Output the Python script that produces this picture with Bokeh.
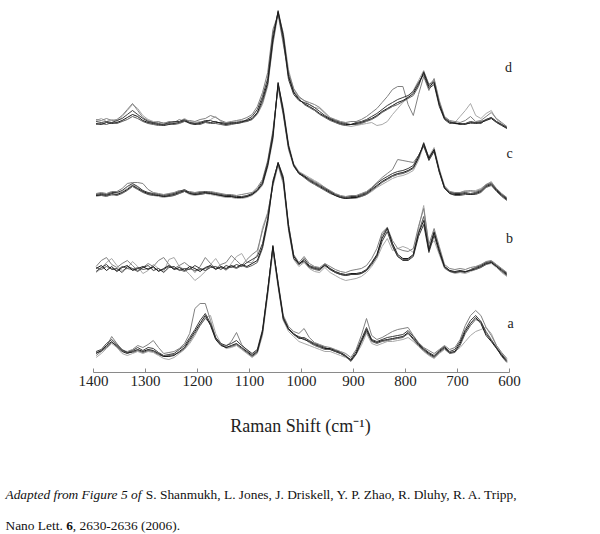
from bokeh.plotting import figure
from bokeh.layouts import column
from bokeh.models import Range1d, Label, FixedTicker
from bokeh.embed import file_html
from bokeh.resources import INLINE

# Raman shift sample positions (cm^-1), 1395 .. 605
raman_shift = list(range(1395, 604, -10))
tick_values = [1400, 1300, 1200, 1100, 1000, 900, 800, 700, 600]

# vertical stacking offset of each group (arbitrary intensity units)
offsets = {"a": 19, "b": 104, "c": 177, "d": 248}

# ---- group d spectra (relative intensity) ----
d1 = [1, 0, 2, 1, 2, 4, 7, 10, 8, 4,
      2, 1, 0, -1, 0, 1, 2, 4, 1, 0,
      1, 3, 2, 3, 1, 0, 1, 2, 3, 4,
      6, 12, 25, 42, 85, 113, 88, 48, 32, 25,
      21, 18, 15, 11, 8, 5, 3, 1, 0, 0,
      1, 2, 4, 6, 9, 13, 16, 19, 22, 24,
      27, 31, 40, 52, 38, 42, 20, 6, 2, 1,
      1, 0, 2, 1, 2, 4, 6, 2, -1, -4]
d2 = [3, 2, 3, 2, 4, 6, 10, 14, 10, 6,
      3, 2, 1, 0, 2, 3, 3, 5, 2, 1,
      2, 4, 4, 2, 2, 1, 2, 1, 2, 5,
      8, 15, 28, 46, 90, 112, 84, 45, 30, 24,
      22, 20, 17, 13, 9, 6, 4, 2, 1, 0,
      2, 3, 5, 8, 11, 15, 19, 22, 25, 27,
      29, 33, 42, 50, 36, 40, 18, 5, 1, 2,
      0, 1, 3, 2, 1, 5, 7, 3, 0, -3]
d3 = [5, 4, 6, 4, 5, 9, 15, 21, 14, 7,
      4, 2, 3, 1, 3, 2, 5, 3, 4, 3,
      5, 6, 9, 7, 4, 2, 3, 4, 5, 7,
      10, 18, 32, 52, 95, 110, 80, 52, 36, 28,
      24, 22, 20, 17, 12, 7, 5, 3, 2, 3,
      3, 5, 8, 12, 16, 22, 28, 35, 38, 38,
      20, 9, 30, 48, 34, 46, 24, 8, 4, 3,
      2, 4, 8, 3, 4, 8, 12, 6, 2, -2]
d4 = [4, 6, 3, 5, 3, 8, 14, 20, 16, 9,
      5, 3, 2, 2, 1, 2, 3, 6, 3, 2,
      3, 2, 5, 8, 3, 1, 2, 3, 4, 3,
      5, 10, 20, 38, 80, 110, 92, 55, 35, 27,
      24, 20, 17, 16, 11, 6, 2, 0, -1, -2,
      -1, 0, 1, 2, -1, 0, 3, 10, 16, 22,
      28, 34, 44, 54, 40, 45, 22, 6, 3, 2,
      8, 14, 21, 9, 6, 11, 14, 5, 1, -3]
d5 = [0, 1, 0, 2, 1, 3, 5, 8, 6, 3,
      1, 0, -1, 0, 1, 0, 1, 3, 2, 1,
      0, 2, 1, 1, 0, -1, 0, 1, 2, 3,
      5, 11, 22, 40, 82, 114, 90, 50, 33, 26,
      20, 17, 14, 10, 7, 4, 2, 0, -1, 0,
      0, 1, 3, 5, 8, 12, 15, 18, 20, 23,
      26, 29, 38, 53, 40, 43, 21, 7, 3, 1,
      0, 1, 1, 2, 3, 5, 7, 3, 0, -3]

# ---- group c spectra ----
c1 = [0, 1, 0, 2, 1, 3, 6, 10, 7, 4,
      2, 1, 0, -1, 0, 1, 3, 5, 2, 1,
      2, 3, 2, 1, 0, -1, -1, -2, -2, -1,
      1, 5, 12, 30, 58, 113, 85, 50, 30, 22,
      19, 15, 12, 9, 6, 3, 0, -2, -3, -2,
      -2, 0, 2, 6, 10, 14, 17, 20, 22, 23,
      25, 28, 38, 52, 37, 46, 25, 8, 2, 1,
      1, 2, 1, 2, 4, 9, 11, 5, 0, -4]
c2 = [1, 2, 1, 3, 3, 5, 9, 12, 9, 5,
      3, 2, 1, 0, 1, 2, 4, 6, 3, 2,
      3, 4, 3, 2, 1, 0, 0, -1, -1, 0,
      2, 6, 14, 33, 62, 110, 82, 48, 31, 23,
      20, 16, 13, 10, 7, 4, 1, -1, -2, -1,
      -1, 1, 3, 7, 12, 16, 19, 22, 24, 25,
      27, 30, 40, 50, 35, 44, 23, 7, 3, 2,
      2, 3, 2, 3, 5, 10, 12, 6, 1, -3]
c3 = [2, 3, 2, 4, 4, 7, 12, 13, 13, 12,
      6, 3, 2, 1, 2, 3, 5, 4, 4, 3,
      4, 3, 4, 3, 2, 1, 1, 0, 1, 2,
      3, 8, 16, 35, 65, 108, 80, 46, 29, 22,
      19, 17, 14, 11, 8, 5, 2, 0, -1, 0,
      0, 2, 4, 8, 13, 18, 22, 26, 36, 35,
      34, 33, 40, 49, 36, 45, 24, 9, 4, 3,
      3, 4, 5, 4, 6, 11, 13, 7, 2, -2]
c4 = [-1, 0, 1, 0, 2, 4, 7, 11, 8, 5,
      1, 0, -1, -2, -1, 0, 2, 4, 1, 0,
      1, 2, 1, 0, -1, -2, -2, -3, -3, -2,
      0, 4, 10, 28, 55, 111, 88, 52, 32, 24,
      21, 18, 15, 12, 8, 4, 1, -1, -2, -3,
      -3, -1, 1, 4, 8, 11, 14, 17, 19, 20,
      22, 25, 35, 50, 39, 48, 27, 10, 4, 2,
      3, 5, 4, 5, 7, 11, 14, 6, 1, -3]
c5 = [0, 0, -1, 1, 0, 2, 5, 9, 6, 3,
      1, 0, 0, -1, -1, 0, 2, 4, 2, 1,
      1, 2, 2, 1, 0, -1, -1, -2, -2, -1,
      1, 5, 11, 31, 60, 112, 84, 49, 30, 22,
      18, 14, 11, 8, 5, 2, 0, -2, -3, -3,
      -2, -1, 1, 5, 9, 13, 16, 19, 21, 22,
      24, 27, 37, 53, 38, 46, 24, 7, 2, 0,
      0, 1, 1, 1, 3, 8, 10, 4, -1, -5]

# ---- group b spectra ----
b1 = [0, 3, -2, 2, -3, 1, 3, -2, 0, 2,
      -1, 2, -3, 0, 3, -1, 1, -2, 2, 0,
      -3, 1, 3, -1, 2, 0, 3, 1, 4, 2,
      5, 8, 22, 48, 85, 106, 90, 42, 12, 5,
      8, 2, 0, -1, 4, 0, -3, -5, -6, -5,
      -5, -4, -1, 6, 14, 30, 40, 25, 14, 10,
      10, 14, 35, 48, 18, 36, 18, 2, -2, -3,
      -2, -3, -2, 0, 2, 5, 6, 2, -2, -6]
b2 = [-3, 1, 4, -1, 0, -4, 2, 0, -3, 1,
      3, -2, 0, -4, 1, 2, -2, 0, -1, 3,
      0, -2, 1, 2, -1, 3, 1, 4, 2, 6,
      9, 12, 25, 50, 88, 105, 88, 40, 10, 4,
      10, 3, 1, 0, 3, -1, -4, -6, -7, -6,
      -6, -5, -2, 4, 12, 27, 37, 22, 12, 8,
      8, 12, 32, 44, 16, 33, 16, 1, -3, -4,
      -3, -4, -1, 1, 3, 6, 7, 3, -1, -5]
b3 = [2, 8, 11, 4, 1, 5, 8, 3, -2, 1,
      5, 2, 8, 11, 4, 0, 3, 6, 2, -4,
      2, 11, 5, 0, 4, 6, 13, 8, 3, 9,
      14, 18, 38, 55, 84, 104, 86, 44, 14, 6,
      12, 5, 2, 1, 5, 2, -1, -3, -4, -2,
      -1, 0, 3, 10, 20, 36, 41, 28, 20, 18,
      17, 20, 42, 60, 24, 40, 22, 4, 0, -1,
      0, -1, 1, 2, 4, 7, 8, 4, 0, -4]
b4 = [-4, 0, 6, 10, 3, -2, 0, 7, 2, -5,
      -2, 4, 0, -3, 9, 11, 2, -1, -6, -12,
      -8, -3, 4, 10, 2, -2, 5, 12, 15, 6,
      6, 14, 41, 56, 82, 103, 84, 38, 9, 2,
      6, 0, -3, -4, 1, -4, -7, -10, -12, -11,
      -10, -8, -4, 2, 10, 22, 30, 18, 20, 22,
      20, 16, 40, 63, 22, 28, 14, 0, -3, -5,
      -4, -5, -3, -1, 1, 4, 5, 1, -4, -8]
b5 = [1, -1, 2, 0, -2, 2, 0, -1, 1, -1,
      0, 1, -2, -1, 2, 0, -1, -3, 0, -2,
      -1, 0, 2, 0, 1, -1, 2, 0, 3, 1,
      3, 6, 20, 45, 86, 106, 92, 44, 13, 4,
      7, 1, -1, -2, 3, -1, -4, -6, -7, -6,
      -6, -5, -2, 5, 13, 33, 41, 24, 12, 9,
      9, 13, 36, 52, 20, 37, 19, 2, -2, -4,
      -3, -3, -2, -1, 1, 4, 6, 2, -3, -7]

# ---- group a spectra ----
a1 = [0, 3, 8, 12, 7, 2, 0, 2, 4, 2,
      4, 3, 0, -3, -3, -2, 2, 6, 14, 22,
      30, 38, 28, 14, 8, 6, 8, 10, 6, 2,
      -2, 2, 22, 62, 108, 70, 36, 25, 20, 16,
      14, 12, 9, 7, 5, 5, 3, 1, -2, -7,
      0, 12, 24, 13, 11, 13, 14, 15, 16, 17,
      21, 15, 9, 4, 0, -3, 2, 6, 1, 2,
      10, 22, 30, 36, 30, 18, 12, 5, -2, -8]
a2 = [2, 4, 10, 14, 9, 4, 1, 3, 6, 3,
      6, 5, 1, -2, -1, 0, 4, 8, 16, 24,
      33, 40, 30, 16, 10, 8, 10, 13, 8, 4,
      0, 4, 24, 64, 106, 68, 34, 24, 19, 15,
      16, 13, 10, 8, 6, 4, 2, 0, -3, -6,
      2, 14, 26, 14, 12, 14, 16, 17, 18, 19,
      23, 17, 10, 5, 1, -2, 3, 7, 2, 4,
      12, 24, 33, 38, 32, 20, 13, 6, -1, -7]
a3 = [-2, 2, 7, 17, 10, 3, 2, 4, 8, 6,
      9, 13, 6, 0, 1, 2, 5, 10, 20, 45,
      50, 50, 33, 16, 9, 7, 12, 21, 9, 3,
      -1, 3, 20, 60, 104, 72, 38, 27, 22, 20,
      25, 16, 11, 9, 7, 6, 4, 2, 0, -4,
      4, 18, 35, 18, 14, 16, 19, 22, 24, 25,
      26, 18, 11, 6, 3, 0, 4, 8, 4, 6,
      14, 28, 38, 43, 38, 26, 18, 8, 1, -5]
a4 = [-4, 0, 5, 10, 6, 0, -2, 0, 2, 0,
      2, 1, -2, -5, -6, -4, 0, 4, 10, 18,
      28, 36, 38, 20, 10, 5, 6, 8, 4, 0,
      -4, 0, 18, 58, 102, 66, 33, 22, 17, 12,
      10, 8, 6, 4, 2, 2, 0, -2, -4, -6,
      -1, 8, 20, 10, 8, 10, 12, 12, 13, 14,
      16, 12, 7, 2, -2, -5, 0, 4, 0, 2,
      6, 12, 18, 22, 24, 26, 20, 8, 0, -6]
a5 = [1, 2, 6, 11, 8, 3, 1, 1, 3, 1,
      3, 2, -1, -3, -2, -1, 1, 5, 12, 20,
      28, 35, 30, 15, 9, 6, 7, 9, 5, 1,
      -3, 1, 21, 63, 107, 70, 35, 24, 19, 17,
      15, 11, 8, 6, 4, 4, 2, 0, -3, -8,
      -1, 11, 22, 12, 10, 12, 13, 14, 15, 16,
      20, 14, 8, 3, -1, -4, 1, 5, 0, 1,
      8, 20, 28, 34, 32, 22, 14, 6, -3, -9]

spectra = {
    "a": [a4, a3, a5, a2, a1],
    "b": [b4, b3, b5, b2, b1],
    "c": [c4, c3, c5, c2, c1],
    "d": [d4, d3, d5, d2, d1],
}
line_colors = ["#a8a8a8", "#808080", "#5e5e5e", "#3c3c3c", "#1a1a1a"]
group_labels = ["a", "b", "c", "d"]

# ---- layout geometry (page pixels; page origin = canvas origin) ----
W, H1, H2 = 600, 450, 84
AXIS_LEFT_PX = 93                 # where 1400 cm-1 sits on the page
PX_PER_UNIT = 416 / 800           # 1400..600 spans 416 px
FH = 372                          # axis line at page y = 372
BB = H1 - FH
X0 = 1400 + AXIS_LEFT_PX / PX_PER_UNIT     # value at page x = 0
X1 = X0 - W / PX_PER_UNIT                  # value at page x = W


def px_to_x(px):
    return X0 - px / PX_PER_UNIT


def py_to_y(py):
    return FH - py


p = figure(width=W, height=H1, x_range=Range1d(X0, X1), y_range=Range1d(0, FH),
           output_backend="svg", toolbar_location=None, y_axis_location=None,
           min_border_left=0, min_border_right=0, min_border_top=0,
           min_border_bottom=BB)
p.outline_line_color = None
p.xgrid.grid_line_color = None
p.ygrid.grid_line_color = None
p.background_fill_color = "white"
p.border_fill_color = "white"

for g in group_labels:
    for curve, col in zip(spectra[g], line_colors):
        ys = [offsets[g] + v for v in curve]
        p.line(raman_shift, ys, line_color=col, line_width=1)

ax = p.xaxis[0]
ax.ticker = FixedTicker(ticks=tick_values)
ax.bounds = (600, 1400)
ax.axis_line_color = "#8a8a8a"
ax.major_tick_line_color = "#8a8a8a"
ax.major_tick_in = 4
ax.major_tick_out = 0
ax.minor_tick_line_color = None
ax.major_label_text_font = "Liberation Serif"
ax.major_label_text_font_size = "15px"
ax.major_label_text_color = "#222222"
ax.major_label_standoff = 3
ax.axis_label = "Raman Shift (cm\u207b\u00b9)"
ax.axis_label_text_font = "Liberation Serif"
ax.axis_label_text_font_size = "18px"
ax.axis_label_text_font_style = "normal"
ax.axis_label_text_color = "#222222"
ax.axis_label_standoff = 27

# group letters
label_pos = {"d": (508, 67), "c": (509, 153), "b": (509, 238), "a": (510, 323)}
for g in group_labels:
    lx, ly = label_pos[g]
    p.add_layout(Label(x=px_to_x(lx), y=py_to_y(ly), text=g,
                       text_font="Liberation Serif", text_font_size="14px",
                       text_color="#222222", text_align="center",
                       text_baseline="middle"))

# caption figure (data coordinates equal page pixels)
cap = figure(width=W, height=H2, x_range=Range1d(0, W), y_range=Range1d(H1 + H2, H1),
             output_backend="svg", toolbar_location=None,
             x_axis_location=None, y_axis_location=None,
             min_border_left=0, min_border_right=0, min_border_top=0,
             min_border_bottom=0)
cap.outline_line_color = None
cap.xgrid.grid_line_color = None
cap.ygrid.grid_line_color = None
cap.background_fill_color = "white"
cap.border_fill_color = "white"

cap_font = "Liberation Serif"
cap_px = 13.4
cap_size = f"{cap_px}px"
cap_pieces = [
    (5, 494, "Adapted from Figure 5 of", "italic"),
    (5 + 10.472 * cap_px, 494, "S. Shanmukh, L. Jones, J. Driskell, Y. P. Zhao, R. Dluhy, R. A. Tripp,", "normal"),
    (5, 525, "Nano Lett.", "normal"),
    (5 + 4.527 * cap_px, 525, "6", "bold"),
    (5 + 5.027 * cap_px, 525, ", 2630-2636 (2006).", "normal"),
]
for cx, cy, txt, style in cap_pieces:
    cap.add_layout(Label(x=cx, y=cy, text=txt,
                         text_font=cap_font, text_font_size=cap_size,
                         text_font_style=style, text_color="#111111",
                         text_align="left", text_baseline="alphabetic"))

layout = column(p, cap, spacing=0)
open("out.html", "w").write(file_html(layout, INLINE))
